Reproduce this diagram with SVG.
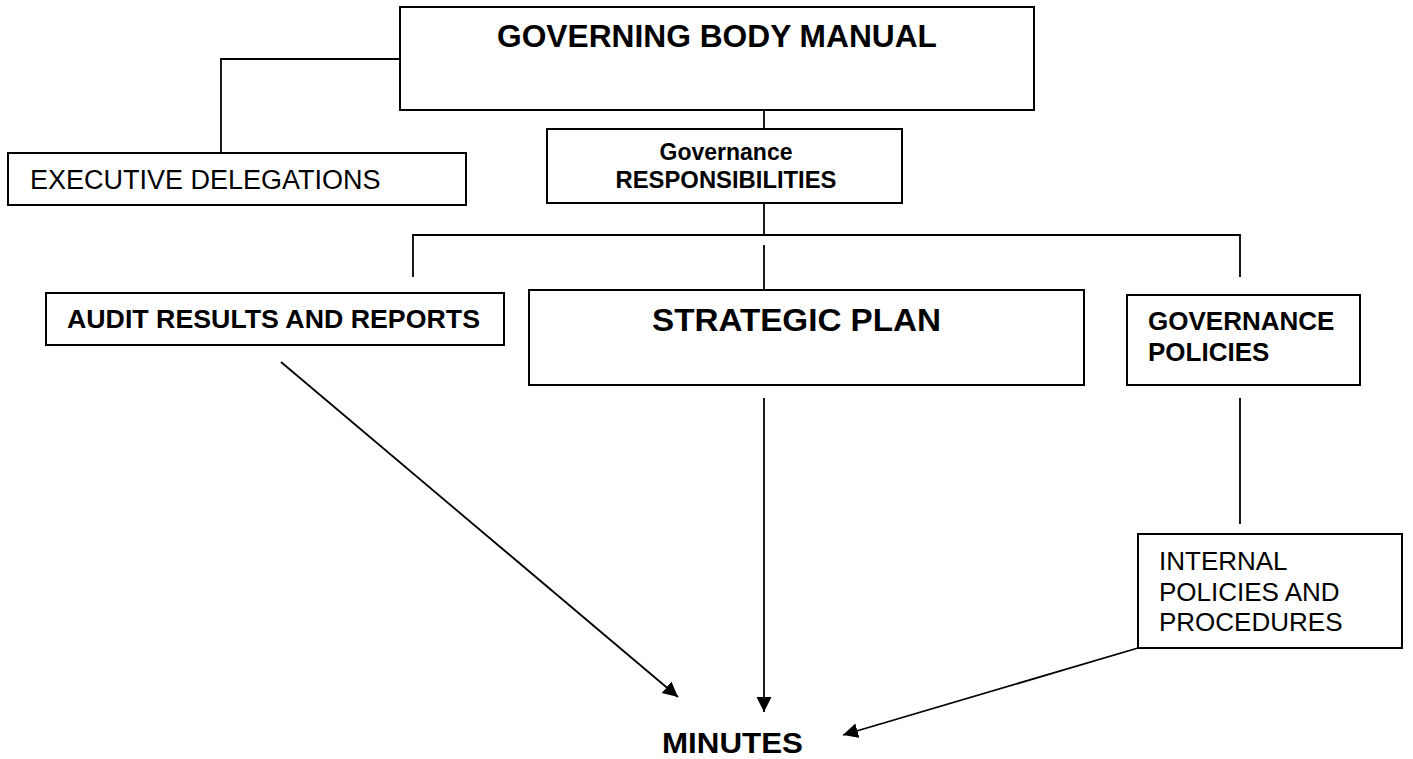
<svg xmlns="http://www.w3.org/2000/svg" width="1413" height="759" viewBox="0 0 1413 759">
<style>
.box{fill:#fff;stroke:#000;stroke-width:2}
.ln{fill:none;stroke:#000;stroke-width:1.8}
text{font-family:"Liberation Sans",Arial,sans-serif;fill:#000}
.b{font-weight:bold}
</style>
<defs>
<marker id="ah" viewBox="0 0 10 10" refX="10" refY="5" markerWidth="15" markerHeight="16" markerUnits="userSpaceOnUse" orient="auto">
<path d="M0,0 L10,5 L0,10 z" fill="#000"/>
</marker>
</defs>
<rect width="1413" height="759" fill="#fff"/>
<g id="connectors">
<polyline class="ln" points="400,59 221,59 221,153"/>
<line class="ln" x1="764" y1="110" x2="764" y2="129"/>
<line class="ln" x1="764" y1="203" x2="764" y2="235"/>
<polyline class="ln" points="413,277 413,235 1240,235 1240,277"/>
<line class="ln" x1="764" y1="245" x2="764" y2="290"/>
<line class="ln" x1="1240" y1="398" x2="1240" y2="524"/>
<line class="ln" x1="281" y1="362" x2="678" y2="697" marker-end="url(#ah)"/>
<line class="ln" x1="764" y1="398" x2="764" y2="712" marker-end="url(#ah)"/>
<line class="ln" x1="1138" y1="648" x2="843" y2="735" marker-end="url(#ah)"/>
</g>
<g id="governing-body-manual">
<rect class="box" x="400" y="7" width="634" height="103"/>
<text class="b" x="717" y="47" font-size="32" text-anchor="middle" textLength="440" lengthAdjust="spacingAndGlyphs">GOVERNING BODY MANUAL</text>
</g>
<g id="executive-delegations">
<rect class="box" x="8" y="153" width="458" height="52"/>
<text x="30" y="189" font-size="27">EXECUTIVE DELEGATIONS</text>
</g>
<g id="governance-responsibilities">
<rect class="box" x="547" y="129" width="355" height="74"/>
<text class="b" x="726" y="160" font-size="23" text-anchor="middle">Governance</text>
<text class="b" x="726" y="188" font-size="23" text-anchor="middle" textLength="221" lengthAdjust="spacingAndGlyphs">RESPONSIBILITIES</text>
</g>
<g id="audit-results">
<rect class="box" x="46" y="293" width="458" height="52"/>
<text class="b" x="67" y="328" font-size="26" textLength="413" lengthAdjust="spacingAndGlyphs">AUDIT RESULTS AND REPORTS</text>
</g>
<g id="strategic-plan">
<rect class="box" x="529" y="290" width="555" height="95"/>
<text class="b" x="652" y="331" font-size="32" textLength="289" lengthAdjust="spacingAndGlyphs">STRATEGIC PLAN</text>
</g>
<g id="governance-policies">
<rect class="box" x="1127" y="295" width="233" height="90"/>
<text class="b" x="1148" y="330" font-size="26">GOVERNANCE</text>
<text class="b" x="1148" y="361" font-size="26">POLICIES</text>
</g>
<g id="internal-policies">
<rect class="box" x="1138" y="534" width="264" height="114"/>
<text x="1159" y="570" font-size="26">INTERNAL</text>
<text x="1159" y="601" font-size="26">POLICIES AND</text>
<text x="1159" y="631" font-size="26">PROCEDURES</text>
</g>
<g id="minutes">
<text class="b" x="662" y="753" font-size="30" textLength="141" lengthAdjust="spacingAndGlyphs">MINUTES</text>
</g>
</svg>
